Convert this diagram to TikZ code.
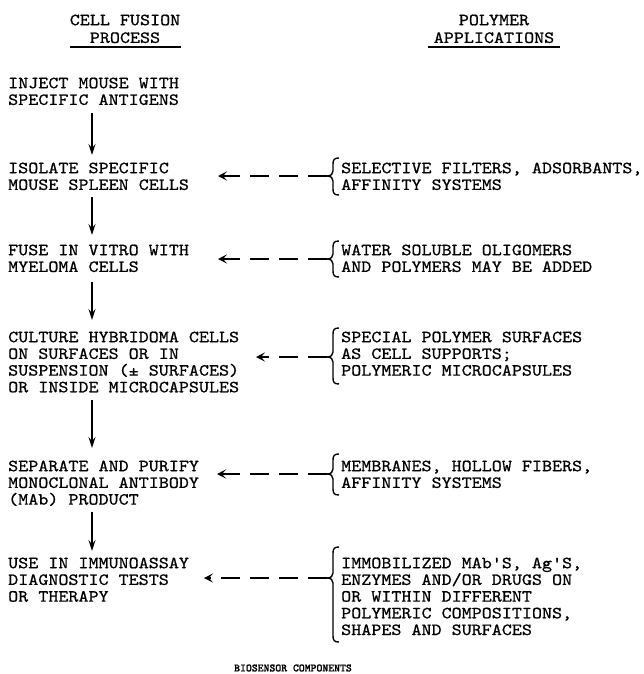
\documentclass[tikz,border=0pt]{standalone}
\usepackage{fontspec}
\newfontfamily\tw{lmmono10-regular.otf}[FakeStretch=1.125,FakeBold=0.8]
\newfontfamily\twb{lmmonolt10-bold.otf}[FakeBold=1]
\usetikzlibrary{arrows.meta}
\newcommand\mybrace[3]{%
  \draw[brc] (339,#1) .. controls (334.5,#1) and (333,#1+1.5) .. (333,#1+6)
    -- (333,#2-5) .. controls (333,#2-2) and (331,#2) .. (327,#2)
    .. controls (331,#2) and (333,#2+2) .. (333,#2+5)
    -- (333,#3-6) .. controls (333,#3-1.5) and (334.5,#3) .. (339,#3);}
\begin{document}
\begin{tikzpicture}[x=1pt,y=-1pt,
  txt/.style={anchor=base west, align=left, inner sep=0pt, font={\tw\fontsize{17}{16.7}\selectfont}},
  hdr/.style={anchor=base, inner sep=0pt, font={\tw\fontsize{17}{16.7}\selectfont}},
  flow/.style={line width=1.4pt, -{Stealth[length=11pt,width=7pt,inset=4pt]}},
  feed/.style={line width=1.4pt, dash pattern=on 19pt off 10pt, -{Stealth[length=9pt,width=9pt,inset=4pt]}},
  brc/.style={line width=1.4pt},
  uline/.style={line width=1.2pt},
]
\useasboundingbox (0,0) rectangle (644,674);

% headers
\node[hdr] (h1a) at (125,25.2) {CELL FUSION};
\node[hdr] (h1b) at (125,42.9) {PROCESS};
\node[hdr] (h2a) at (494,25.2) {POLYMER};
\node[hdr] (h2b) at (494,42.9) {APPLICATIONS};
\draw[uline] (70,47) -- (181,47);
\draw[uline] (428,47) -- (560,47);

% left column (base anchor = baseline of the last line)
\node[txt] (l1) at (8,104.9) {INJECT MOUSE WITH\\SPECIFIC ANTIGENS};
\node[txt] (l2) at (8,189.9) {ISOLATE SPECIFIC\\MOUSE SPLEEN CELLS};
\node[txt] (l3) at (8,271.9) {FUSE IN VITRO WITH\\MYELOMA CELLS};
\node[txt] (l4) at (8,392.3) {CULTURE HYBRIDOMA CELLS\\ON SURFACES OR IN\\SUSPENSION (± SURFACES)\\OR INSIDE MICROCAPSULES};
\node[txt] (l5) at (8,504.6) {SEPARATE AND PURIFY\\MONOCLONAL ANTIBODY\\(MAb) PRODUCT};
\node[txt] (l6) at (8,601.6) {USE IN IMMUNOASSAY\\DIAGNOSTIC TESTS\\OR THERAPY};

% right column
\node[txt] (r1) at (341,189.9) {SELECTIVE FILTERS, ADSORBANTS,\\AFFINITY SYSTEMS};
\node[txt] (r2) at (341,271.9) {WATER SOLUBLE OLIGOMERS\\AND POLYMERS MAY BE ADDED};
\node[txt] (r3) at (341,375.6) {SPECIAL POLYMER SURFACES\\AS CELL SUPPORTS;\\POLYMERIC MICROCAPSULES};
\node[txt] (r4) at (341,487.9) {MEMBRANES, HOLLOW FIBERS,\\AFFINITY SYSTEMS};
\node[txt] (r5) at (341,635) {IMMOBILIZED MAb'S, Ag'S,\\ENZYMES AND/OR DRUGS ON\\OR WITHIN DIFFERENT\\POLYMERIC COMPOSITIONS,\\SHAPES AND SURFACES};

\node[inner sep=0pt, font={\twb\fontsize{11.2}{13}\selectfont}] (cap) at (293,668) {BIOSENSOR COMPONENTS};

% solid flow arrows
\coordinate (a1s) at (92,113); \coordinate (a1e) at (92,155);
\coordinate (a2s) at (92,197); \coordinate (a2e) at (92,235);
\coordinate (a3s) at (92,282); \coordinate (a3e) at (92,320);
\coordinate (a4s) at (92,400); \coordinate (a4e) at (92,448);
\coordinate (a5s) at (92,512); \coordinate (a5e) at (92,551);
\draw[flow] (a1s) -- (a1e);
\draw[flow] (a2s) -- (a2e);
\draw[flow] (a3s) -- (a3e);
\draw[flow] (a4s) -- (a4e);
\draw[flow] (a5s) -- (a5e);

% braces and dashed feed arrows
\mybrace{158}{176}{195}
\mybrace{241}{259}{277}
\mybrace{328}{357}{384}
\mybrace{454}{474}{495}
\mybrace{547}{578}{642}
\coordinate (t1) at (327,176); \coordinate (e1) at (218,176);
\coordinate (t2) at (327,259); \coordinate (e2) at (218,259);
\coordinate (t3) at (327,357); \coordinate (e3) at (256,357);
\coordinate (t4) at (327,474); \coordinate (e4) at (217,474);
\coordinate (t5) at (327,578); \coordinate (e5) at (204,578);
\draw[feed] (t1) -- (e1);
\draw[feed] (t2) -- (e2);
\draw[feed] (t3) -- (e3);
\draw[feed] (t4) -- (e4);
\draw[feed] (t5) -- (e5);
\end{tikzpicture}
\end{document}
